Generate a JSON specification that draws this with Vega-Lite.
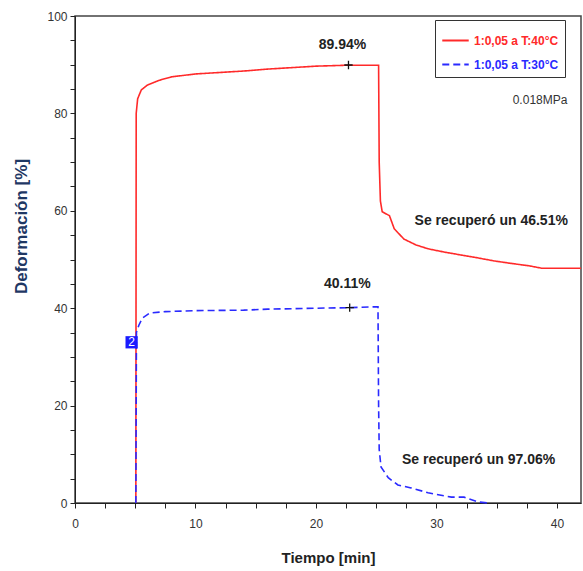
{
  "$schema": "https://vega.github.io/schema/vega-lite/v6.json",
  "width": 506,
  "height": 487,
  "autosize": {"type": "none"},
  "padding": {"left": 75, "top": 16, "right": 2, "bottom": 68},
  "background": "white",
  "config": {
    "view": {"stroke": "#444", "strokeWidth": 1.5},
    "font": "Liberation Sans, Arial, sans-serif",
    "axis": {
      "domainColor": "#222", "tickColor": "#222", "labelColor": "#333",
      "labelFont": "Liberation Sans, Arial, sans-serif",
      "titleFont": "Liberation Sans, Arial, sans-serif",
      "grid": false
    }
  },
  "datasets": {
    "curves": [
      {"s": "1:0,05 a T:40°C", "i": 1, "t": 5.05, "v": 0},
      {"s": "1:0,05 a T:40°C", "i": 2, "t": 5.08, "v": 80},
      {"s": "1:0,05 a T:40°C", "i": 3, "t": 5.2, "v": 83},
      {"s": "1:0,05 a T:40°C", "i": 4, "t": 5.5, "v": 84.8},
      {"s": "1:0,05 a T:40°C", "i": 5, "t": 6, "v": 85.8},
      {"s": "1:0,05 a T:40°C", "i": 6, "t": 7, "v": 86.8},
      {"s": "1:0,05 a T:40°C", "i": 7, "t": 8, "v": 87.5},
      {"s": "1:0,05 a T:40°C", "i": 8, "t": 10, "v": 88.1},
      {"s": "1:0,05 a T:40°C", "i": 9, "t": 12, "v": 88.4},
      {"s": "1:0,05 a T:40°C", "i": 10, "t": 14, "v": 88.7},
      {"s": "1:0,05 a T:40°C", "i": 11, "t": 16, "v": 89.1},
      {"s": "1:0,05 a T:40°C", "i": 12, "t": 18, "v": 89.4},
      {"s": "1:0,05 a T:40°C", "i": 13, "t": 20, "v": 89.7},
      {"s": "1:0,05 a T:40°C", "i": 14, "t": 22.7, "v": 89.9},
      {"s": "1:0,05 a T:40°C", "i": 15, "t": 25.2, "v": 89.9},
      {"s": "1:0,05 a T:40°C", "i": 16, "t": 25.25, "v": 70},
      {"s": "1:0,05 a T:40°C", "i": 17, "t": 25.35, "v": 62},
      {"s": "1:0,05 a T:40°C", "i": 18, "t": 25.5, "v": 59.8},
      {"s": "1:0,05 a T:40°C", "i": 19, "t": 26.1, "v": 59},
      {"s": "1:0,05 a T:40°C", "i": 20, "t": 26.5, "v": 56.3},
      {"s": "1:0,05 a T:40°C", "i": 21, "t": 27.3, "v": 54.2},
      {"s": "1:0,05 a T:40°C", "i": 22, "t": 28.3, "v": 53},
      {"s": "1:0,05 a T:40°C", "i": 23, "t": 29.3, "v": 52.2},
      {"s": "1:0,05 a T:40°C", "i": 24, "t": 30.7, "v": 51.5},
      {"s": "1:0,05 a T:40°C", "i": 25, "t": 32.1, "v": 50.9},
      {"s": "1:0,05 a T:40°C", "i": 26, "t": 33.5, "v": 50.3},
      {"s": "1:0,05 a T:40°C", "i": 27, "t": 34.8, "v": 49.7},
      {"s": "1:0,05 a T:40°C", "i": 28, "t": 36.2, "v": 49.2},
      {"s": "1:0,05 a T:40°C", "i": 29, "t": 37.7, "v": 48.7},
      {"s": "1:0,05 a T:40°C", "i": 30, "t": 38.75, "v": 48.2},
      {"s": "1:0,05 a T:40°C", "i": 31, "t": 42, "v": 48.2},
      {"s": "1:0,05 a T:30°C", "i": 1, "t": 5.05, "v": 0},
      {"s": "1:0,05 a T:30°C", "i": 2, "t": 5.1, "v": 35},
      {"s": "1:0,05 a T:30°C", "i": 3, "t": 5.3, "v": 36.5},
      {"s": "1:0,05 a T:30°C", "i": 4, "t": 5.6, "v": 38},
      {"s": "1:0,05 a T:30°C", "i": 5, "t": 6.2, "v": 39},
      {"s": "1:0,05 a T:30°C", "i": 6, "t": 7.5, "v": 39.3},
      {"s": "1:0,05 a T:30°C", "i": 7, "t": 10, "v": 39.5},
      {"s": "1:0,05 a T:30°C", "i": 8, "t": 14, "v": 39.6},
      {"s": "1:0,05 a T:30°C", "i": 9, "t": 16, "v": 39.8},
      {"s": "1:0,05 a T:30°C", "i": 10, "t": 18, "v": 39.9},
      {"s": "1:0,05 a T:30°C", "i": 11, "t": 20, "v": 40},
      {"s": "1:0,05 a T:30°C", "i": 12, "t": 22.7, "v": 40.1},
      {"s": "1:0,05 a T:30°C", "i": 13, "t": 25.15, "v": 40.3},
      {"s": "1:0,05 a T:30°C", "i": 14, "t": 25.2, "v": 20},
      {"s": "1:0,05 a T:30°C", "i": 15, "t": 25.25, "v": 11},
      {"s": "1:0,05 a T:30°C", "i": 16, "t": 25.4, "v": 7.4},
      {"s": "1:0,05 a T:30°C", "i": 17, "t": 26, "v": 5.2},
      {"s": "1:0,05 a T:30°C", "i": 18, "t": 26.8, "v": 3.7},
      {"s": "1:0,05 a T:30°C", "i": 19, "t": 27.9, "v": 3.1},
      {"s": "1:0,05 a T:30°C", "i": 20, "t": 29.3, "v": 2.1},
      {"s": "1:0,05 a T:30°C", "i": 21, "t": 31.25, "v": 1.2},
      {"s": "1:0,05 a T:30°C", "i": 22, "t": 32.3, "v": 1.2},
      {"s": "1:0,05 a T:30°C", "i": 23, "t": 33.5, "v": 0.2},
      {"s": "1:0,05 a T:30°C", "i": 24, "t": 34.3, "v": 0}
    ],
    "bold": [
      {"t": 22.2, "v": 94.0, "label": "89.94%"},
      {"t": 22.6, "v": 45.0, "label": "40.11%"},
      {"t": 34.55, "v": 57.9, "label": "Se recuperó un 46.51%"},
      {"t": 33.5, "v": 8.9, "label": "Se recuperó un 97.06%"}
    ],
    "plain": [
      {"t": 38.6, "v": 82.7, "label": "0.018MPa"}
    ],
    "marks": [
      {"t": 22.7, "v": 89.94},
      {"t": 22.8, "v": 40.11}
    ],
    "tag": [
      {"t": 4.7, "v": 33, "label": "2"}
    ]
  },
  "encoding": {
    "x": {
      "field": "t", "type": "quantitative",
      "scale": {"domain": [0, 42], "nice": false, "zero": false},
      "axis": {
        "values": [0, 2.5, 5, 7.5, 10, 12.5, 15, 17.5, 20, 22.5, 25, 27.5, 30, 32.5, 35, 37.5, 40],
        "labelExpr": "datum.value % 10 == 0 ? datum.label : ''",
        "title": "Tiempo [min]", "titleFontSize": 15, "titleFontWeight": "bold", "titleColor": "#222",
        "labelFontSize": 12, "tickSize": 5, "labelPadding": 10, "titlePadding": 21, "labelFlush": false
      }
    },
    "y": {
      "field": "v", "type": "quantitative",
      "scale": {"domain": [0, 100], "nice": false},
      "axis": {
        "values": [0, 5, 10, 15, 20, 25, 30, 35, 40, 45, 50, 55, 60, 65, 70, 75, 80, 85, 90, 95, 100],
        "labelExpr": "datum.value % 20 == 0 ? datum.label : ''",
        "title": "Deformación [%]", "titleFontSize": 17, "titleFontWeight": "bold", "titleColor": "#1f3864",
        "titleY": 210,
        "labelFontSize": 12, "tickSize": 5, "labelPadding": 3, "titlePadding": 16, "labelFlush": false
      }
    }
  },
  "layer": [
    {
      "data": {"name": "curves"},
      "mark": {"type": "line", "strokeWidth": 1.6},
      "encoding": {
        "color": {
          "field": "s", "type": "nominal",
          "scale": {"domain": ["1:0,05 a T:40°C", "1:0,05 a T:30°C"], "range": ["#ff2a2a", "#2a2aff"]},
          "legend": {
            "title": null, "orient": "none", "legendX": 360, "legendY": 4,
            "symbolType": "stroke", "symbolSize": 700, "symbolStrokeWidth": 2,
            "labelFontSize": 12, "labelFontWeight": "bold", "labelFont": "Liberation Sans, Arial, sans-serif",
            "strokeColor": "#333", "fillColor": "white", "padding": 6, "rowPadding": 3,
            "labelLimit": 200,
            "encode": {"labels": {"update": {"fill": {"signal": "datum.value == '1:0,05 a T:40°C' ? '#ff2a2a' : '#2a2aff'"}}}}
          }
        },
        "strokeDash": {
          "field": "s", "type": "nominal",
          "scale": {"domain": ["1:0,05 a T:40°C", "1:0,05 a T:30°C"], "range": [[1, 0], [7, 4]]},
          "legend": null
        },
        "order": {"field": "i", "type": "quantitative"}
      }
    },
    {
      "data": {"name": "marks"},
      "mark": {"type": "point", "shape": "M-1,0H1M0,-1V1", "filled": false, "stroke": "#111", "strokeWidth": 1.3, "size": 70, "opacity": 1}
    },
    {
      "data": {"name": "bold"},
      "mark": {"type": "text", "fontWeight": "bold", "fontSize": 14, "color": "#222", "align": "center", "baseline": "middle"},
      "encoding": {"text": {"field": "label"}}
    },
    {
      "data": {"name": "plain"},
      "mark": {"type": "text", "fontSize": 12, "color": "#333", "align": "center", "baseline": "middle"},
      "encoding": {"text": {"field": "label"}}
    },
    {
      "data": {"name": "tag"},
      "mark": {"type": "square", "filled": true, "color": "#1a1aff", "size": 150, "opacity": 1}
    },
    {
      "data": {"name": "tag"},
      "mark": {"type": "text", "fontSize": 12, "color": "white", "align": "center", "baseline": "middle"},
      "encoding": {"text": {"field": "label"}}
    }
  ]
}
